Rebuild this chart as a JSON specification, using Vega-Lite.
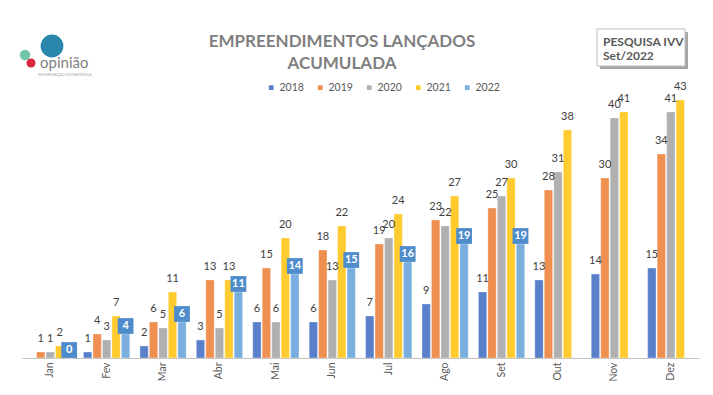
{
  "$schema": "https://vega.github.io/schema/vega-lite/v6.json",
  "width": 677,
  "height": 270,
  "autosize": {"type": "none"},
  "padding": {"left": 22, "top": 88, "right": 14, "bottom": 37},
  "background": "white",
  "config": {
    "view": {"stroke": null},
    "font": "Lato",
    "axis": {"grid": false}
  },
  "datasets": {
    "main": [
      {"mes": "Jan", "ano": "2018", "valor": null},
      {"mes": "Jan", "ano": "2019", "valor": 1},
      {"mes": "Jan", "ano": "2020", "valor": 1},
      {"mes": "Jan", "ano": "2021", "valor": 2},
      {"mes": "Jan", "ano": "2022", "valor": 0},
      {"mes": "Fev", "ano": "2018", "valor": 1},
      {"mes": "Fev", "ano": "2019", "valor": 4},
      {"mes": "Fev", "ano": "2020", "valor": 3},
      {"mes": "Fev", "ano": "2021", "valor": 7},
      {"mes": "Fev", "ano": "2022", "valor": 4},
      {"mes": "Mar", "ano": "2018", "valor": 2},
      {"mes": "Mar", "ano": "2019", "valor": 6},
      {"mes": "Mar", "ano": "2020", "valor": 5},
      {"mes": "Mar", "ano": "2021", "valor": 11},
      {"mes": "Mar", "ano": "2022", "valor": 6},
      {"mes": "Abr", "ano": "2018", "valor": 3},
      {"mes": "Abr", "ano": "2019", "valor": 13},
      {"mes": "Abr", "ano": "2020", "valor": 5},
      {"mes": "Abr", "ano": "2021", "valor": 13},
      {"mes": "Abr", "ano": "2022", "valor": 11},
      {"mes": "Mai", "ano": "2018", "valor": 6},
      {"mes": "Mai", "ano": "2019", "valor": 15},
      {"mes": "Mai", "ano": "2020", "valor": 6},
      {"mes": "Mai", "ano": "2021", "valor": 20},
      {"mes": "Mai", "ano": "2022", "valor": 14},
      {"mes": "Jun", "ano": "2018", "valor": 6},
      {"mes": "Jun", "ano": "2019", "valor": 18},
      {"mes": "Jun", "ano": "2020", "valor": 13},
      {"mes": "Jun", "ano": "2021", "valor": 22},
      {"mes": "Jun", "ano": "2022", "valor": 15},
      {"mes": "Jul", "ano": "2018", "valor": 7},
      {"mes": "Jul", "ano": "2019", "valor": 19},
      {"mes": "Jul", "ano": "2020", "valor": 20},
      {"mes": "Jul", "ano": "2021", "valor": 24},
      {"mes": "Jul", "ano": "2022", "valor": 16},
      {"mes": "Ago", "ano": "2018", "valor": 9},
      {"mes": "Ago", "ano": "2019", "valor": 23},
      {"mes": "Ago", "ano": "2020", "valor": 22},
      {"mes": "Ago", "ano": "2021", "valor": 27},
      {"mes": "Ago", "ano": "2022", "valor": 19},
      {"mes": "Set", "ano": "2018", "valor": 11},
      {"mes": "Set", "ano": "2019", "valor": 25},
      {"mes": "Set", "ano": "2020", "valor": 27},
      {"mes": "Set", "ano": "2021", "valor": 30},
      {"mes": "Set", "ano": "2022", "valor": 19},
      {"mes": "Out", "ano": "2018", "valor": 13},
      {"mes": "Out", "ano": "2019", "valor": 28},
      {"mes": "Out", "ano": "2020", "valor": 31},
      {"mes": "Out", "ano": "2021", "valor": 38},
      {"mes": "Out", "ano": "2022", "valor": null},
      {"mes": "Nov", "ano": "2018", "valor": 14},
      {"mes": "Nov", "ano": "2019", "valor": 30},
      {"mes": "Nov", "ano": "2020", "valor": 40},
      {"mes": "Nov", "ano": "2021", "valor": 41},
      {"mes": "Nov", "ano": "2022", "valor": null},
      {"mes": "Dez", "ano": "2018", "valor": 15},
      {"mes": "Dez", "ano": "2019", "valor": 34},
      {"mes": "Dez", "ano": "2020", "valor": 41},
      {"mes": "Dez", "ano": "2021", "valor": 43},
      {"mes": "Dez", "ano": "2022", "valor": null}
    ]
  },
  "layer": [
    {
      "data": {"name": "main"},
      "mark": {"type": "bar", "stroke": "white", "strokeWidth": 0.5, "strokeOpacity": 0.6},
      "encoding": {
        "x": {
          "field": "mes", "type": "nominal",
          "sort": ["Jan","Fev","Mar","Abr","Mai","Jun","Jul","Ago","Set","Out","Nov","Dez"],
          "scale": {"paddingInner": 0.18, "paddingOuter": 0.09},
          "axis": {
            "title": null, "labelAngle": -90, "ticks": false,
            "domainColor": "#BFBFBF", "domainWidth": 1,
            "labelColor": "#595959", "labelFontSize": 10.5, "labelPadding": 4,
            "labelFont": "Lato"
          }
        },
        "xOffset": {
          "field": "ano", "type": "nominal",
          "scale": {"domain": ["2018","2019","2020","2021","2022"], "paddingInner": 0.12}
        },
        "y": {
          "field": "valor", "type": "quantitative",
          "scale": {"domain": [0, 45]},
          "axis": null
        },
        "color": {
          "field": "ano", "type": "nominal",
          "scale": {
            "domain": ["2018","2019","2020","2021","2022"],
            "range": ["#5A80CC","#EF8F50","#B0B0B0","#FFCB2E","#7AAEDE"]
          },
          "legend": {
            "title": null, "orient": "none", "direction": "horizontal",
            "legendX": 244, "legendY": -6,
            "symbolType": "square", "symbolSize": 40,
            "labelFontSize": 10.5, "labelColor": "#595959",
            "labelFont": "Lato", "columnPadding": 10, "labelOffset": 3
          }
        }
      }
    },
    {
      "data": {"name": "main"},
      "transform": [{"filter": "datum.ano != '2022' && datum.valor != null"}],
      "mark": {"type": "text", "dy": -8, "baseline": "bottom", "fontSize": 11, "color": "#404040", "font": "Lato"},
      "encoding": {
        "x": {"field": "mes", "type": "nominal", "sort": ["Jan","Fev","Mar","Abr","Mai","Jun","Jul","Ago","Set","Out","Nov","Dez"]},
        "xOffset": {"field": "ano", "type": "nominal"},
        "y": {"field": "valor", "type": "quantitative", "axis": null},
        "text": {"field": "valor", "type": "quantitative"}
      }
    },
    {
      "data": {"name": "main"},
      "transform": [{"filter": "datum.ano == '2022' && datum.valor != null"}],
      "mark": {"type": "point", "shape": "square", "filled": true, "size": 250, "color": "#4E8CCB", "opacity": 1},
      "encoding": {
        "x": {"field": "mes", "type": "nominal", "sort": ["Jan","Fev","Mar","Abr","Mai","Jun","Jul","Ago","Set","Out","Nov","Dez"]},
        "xOffset": {"field": "ano", "type": "nominal"},
        "y": {"field": "valor", "type": "quantitative", "axis": null},
        "yOffset": {"value": -8}
      }
    },
    {
      "data": {"name": "main"},
      "transform": [{"filter": "datum.ano == '2022' && datum.valor != null"}],
      "mark": {"type": "text", "dy": -8, "baseline": "middle", "fontSize": 11, "fontWeight": "bold", "color": "white", "font": "Lato"},
      "encoding": {
        "x": {"field": "mes", "type": "nominal", "sort": ["Jan","Fev","Mar","Abr","Mai","Jun","Jul","Ago","Set","Out","Nov","Dez"]},
        "xOffset": {"field": "ano", "type": "nominal"},
        "y": {"field": "valor", "type": "quantitative", "axis": null},
        "text": {"field": "valor", "type": "quantitative"}
      }
    },
    {
      "data": {"values": [{"t": "EMPREENDIMENTOS LANÇADOS"}]},
      "mark": {"type": "text", "align": "center", "baseline": "middle", "fontSize": 17, "fontWeight": "bold", "color": "#7F7F7F", "font": "Lato"},
      "encoding": {"x": {"value": 320}, "y": {"value": -46}, "text": {"field": "t", "type": "nominal"}}
    },
    {
      "data": {"values": [{"t": "ACUMULADA"}]},
      "mark": {"type": "text", "align": "center", "baseline": "middle", "fontSize": 17, "fontWeight": "bold", "color": "#7F7F7F", "font": "Lato"},
      "encoding": {"x": {"value": 320}, "y": {"value": -24}, "text": {"field": "t", "type": "nominal"}}
    },
    {
      "data": {"values": [{"a": 1}]},
      "mark": {"type": "rect", "fill": "#A6A6A6", "stroke": null},
      "encoding": {
        "x": {"value": 578}, "x2": {"value": 666},
        "y": {"value": -56}, "y2": {"value": -19}
      }
    },
    {
      "data": {"values": [{"a": 1}]},
      "mark": {"type": "rect", "fill": "white", "stroke": "#BFBFBF", "strokeWidth": 1},
      "encoding": {
        "x": {"value": 575}, "x2": {"value": 663},
        "y": {"value": -59}, "y2": {"value": -22}
      }
    },
    {
      "data": {"values": [{"t": "PESQUISA IVV"}]},
      "mark": {"type": "text", "align": "left", "baseline": "middle", "fontSize": 12, "fontWeight": "bold", "color": "#595959", "font": "Lato"},
      "encoding": {"x": {"value": 581}, "y": {"value": -46}, "text": {"field": "t", "type": "nominal"}}
    },
    {
      "data": {"values": [{"t": "Set/2022"}]},
      "mark": {"type": "text", "align": "left", "baseline": "middle", "fontSize": 12, "fontWeight": "bold", "color": "#595959", "font": "Lato"},
      "encoding": {"x": {"value": 581}, "y": {"value": -32}, "text": {"field": "t", "type": "nominal"}}
    },
    {
      "data": {"values": [{"a": 1}]},
      "mark": {"type": "point", "shape": "circle", "filled": true, "size": 520, "color": "#2A86AB", "opacity": 1},
      "encoding": {"x": {"value": 30}, "y": {"value": -42}}
    },
    {
      "data": {"values": [{"a": 1}]},
      "mark": {"type": "point", "shape": "circle", "filled": true, "size": 110, "color": "#6FC7A6", "opacity": 1},
      "encoding": {"x": {"value": 3}, "y": {"value": -33}}
    },
    {
      "data": {"values": [{"a": 1}]},
      "mark": {"type": "point", "shape": "circle", "filled": true, "size": 80, "color": "#D9263F", "opacity": 1},
      "encoding": {"x": {"value": 9}, "y": {"value": -25}}
    },
    {
      "data": {"values": [{"t": "opinião"}]},
      "mark": {"type": "text", "align": "left", "baseline": "middle", "fontSize": 15, "color": "#7F7F7F", "font": "Lato"},
      "encoding": {"x": {"value": 18}, "y": {"value": -25}, "text": {"field": "t", "type": "nominal"}}
    },
    {
      "data": {"values": [{"t": "INFORMAÇÃO ESTRATÉGICA"}]},
      "mark": {"type": "text", "align": "left", "baseline": "middle", "fontSize": 4, "color": "#A6A6A6", "font": "Lato"},
      "encoding": {"x": {"value": 16}, "y": {"value": -13}, "text": {"field": "t", "type": "nominal"}}
    }
  ]
}
